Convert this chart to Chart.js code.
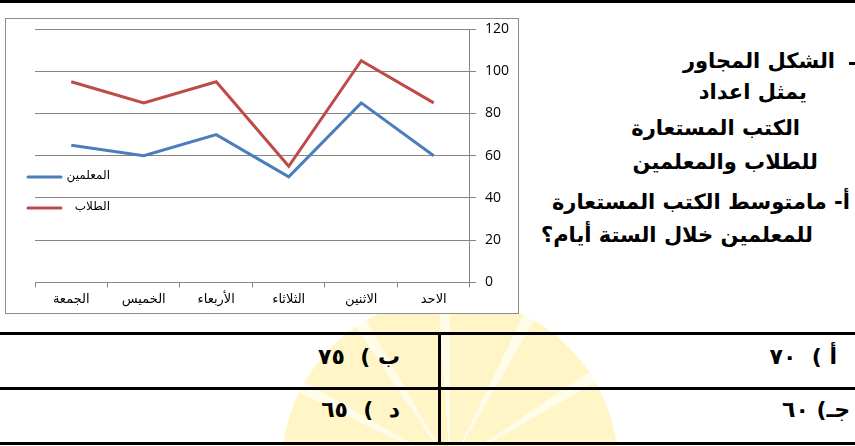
<!DOCTYPE html>
<html lang="ar">
<head>
<meta charset="utf-8">
<script src="https://cdn.jsdelivr.net/npm/chart.js@4.4.1/dist/chart.umd.min.js"></script>
<style>
  html, body { margin: 0; padding: 0; background: #fff; }
  body { width: 855px; height: 446px; position: relative; overflow: hidden; font-family: "DejaVu Sans", sans-serif; }
  .topline { position: absolute; left: 0; top: 0; width: 855px; height: 3px; background: #000; }
  .sun { position: absolute; left: 282px; top: 298px; width: 336px; height: 336px; border-radius: 50%;
         background: repeating-conic-gradient(from 0deg at 50% 50%, #fff5c6 0deg 26deg, #fffcea 26deg 30deg); }
  #box { position: absolute; left: 5px; top: 18px; width: 512px; height: 294px; border: 1px solid #8c8c8c; background: #fff; overflow: hidden; }
  #box canvas { display: block; margin-top: -6px; }
  .q { position: absolute; direction: rtl; white-space: nowrap; font-weight: bold; font-size: 21px; color: #000; line-height: 1; }
  .hl { position: absolute; left: 0; width: 855px; height: 3px; background: #000; }
  .vl { position: absolute; left: 438px; top: 333px; width: 3px; height: 112px; background: #000; }
  .ans { position: absolute; direction: rtl; white-space: pre; font-weight: bold; font-size: 22px; line-height: 1; }
  .ans span { letter-spacing: 3px; }
</style>
</head>
<body>
<div class="sun"></div>
<div class="topline"></div>

<div id="box"><canvas id="chart" width="512" height="300"></canvas></div>

<div class="q" style="right:20px; top:51px;">الشكل المجاور</div>
<div class="q" style="right:48px; top:82px;">يمثل اعداد</div>
<div class="q" style="right:55px; top:118px;">الكتب المستعارة</div>
<div class="q" style="right:37px; top:152px;">للطلاب والمعلمين</div>
<div class="q" style="right:5px; top:192px;">أ- مامتوسط الكتب المستعارة</div>
<div class="q" style="right:42px; top:225px;">للمعلمين خلال الستة أيام؟</div>
<div style="position:absolute; left:849px; top:62px; width:6px; height:3px; background:#000;"></div>

<div class="hl" style="top:332px;"></div>
<div class="hl" style="top:387px;"></div>
<div class="hl" style="top:442px;"></div>
<div class="vl"></div>

<div class="ans" style="right:18px; top:346px;">أ )  <span>٧٠</span></div>
<div class="ans" style="right:455px; top:346px;">ب )  <span>٧٥</span></div>
<div class="ans" style="right:5px; top:399px;">جـ) <span>٦٠</span></div>
<div class="ans" style="right:455px; top:399px;">د  )  <span>٦٥</span></div>

<script>
  // أيام الأسبوع (تعرض من اليمين إلى اليسار)
  const days = ['الاحد', 'الاثنين', 'الثلاثاء', 'الأربعاء', 'الخميس', 'الجمعة'];
  // أسماء السلاسل
  const teacherLabel = 'المعلمين';
  const studentLabel = 'الطلاب';
  // عدد الكتب المستعارة
  const teacherBooks = [60, 85, 50, 70, 60, 65];
  const studentBooks = [85, 105, 55, 95, 85, 95];
  // المحور الرأسي
  const yMin = 0;
  const yMax = 120;
  const yStep = 20;

  const gridColor = '#868686';
  const tickFont = { family: "'Open Sans', 'DejaVu Sans', sans-serif", size: 14, lineHeight: 1 };
  const labelFont = { family: "'DejaVu Sans', sans-serif", size: 13 };

  // مفتاح الرسم داخل منطقة الرسم على اليسار
  const innerLegend = {
    id: 'innerLegend',
    afterDraw(chart) {
      const ctx = chart.ctx;
      ctx.save();
      chart.data.datasets.forEach(function(ds, i) {
        const y = 164 + i * 31;
        ctx.strokeStyle = ds.borderColor;
        ctx.lineWidth = 3;
        ctx.lineCap = 'round';
        ctx.beginPath();
        ctx.moveTo(22, y);
        ctx.lineTo(55, y);
        ctx.stroke();
        ctx.fillStyle = '#000';
        ctx.font = '12px "DejaVu Sans", sans-serif';
        ctx.textAlign = 'right';
        ctx.textBaseline = 'middle';
        ctx.direction = 'rtl';
        ctx.fillText(ds.label, 104, y - 1);
      });
      ctx.restore();
    }
  };

  new Chart(document.getElementById('chart').getContext('2d'), {
    type: 'line',
    data: {
      labels: days,
      datasets: [{
        label: teacherLabel,
        data: teacherBooks,
        borderColor: '#4a7ebb',
        borderWidth: 3,
        pointRadius: 0,
        tension: 0,
      }, {
        label: studentLabel,
        data: studentBooks,
        borderColor: '#be4b48',
        borderWidth: 3,
        pointRadius: 0,
        tension: 0,
      }],
    },
    options: {
      responsive: false,
      animation: false,
      layout: { padding: { left: 29, top: 0, right: 0, bottom: 2 } },
      plugins: {
        legend: { display: false },
        tooltip: { enabled: false },
      },
      scales: {
        x: {
          reverse: true,
          offset: true,
          grid: { offset: true, drawOnChartArea: false, color: gridColor, tickLength: 5 },
          border: { color: gridColor },
          ticks: { color: '#000', font: labelFont, padding: 4, maxRotation: 0 },
        },
        y: {
          position: 'right',
          min: yMin,
          max: yMax,
          grid: { color: gridColor, tickLength: 6 },
          border: { color: gridColor },
          ticks: { stepSize: yStep, color: '#000', font: tickFont, padding: 9 },
        },
      },
    },
    plugins: [innerLegend],
  });
</script>
</body>
</html>
